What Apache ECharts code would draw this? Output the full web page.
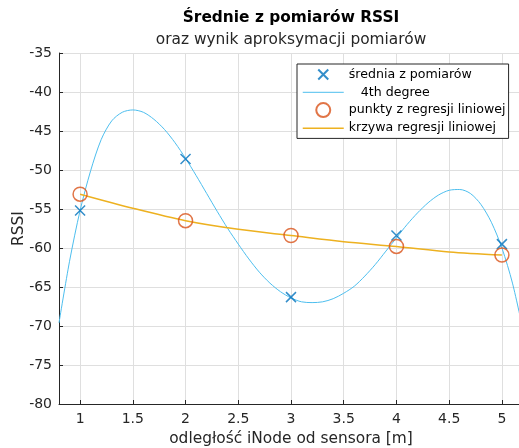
<!DOCTYPE html>
<html>
<head>
<meta charset="utf-8">
<script src="https://cdn.jsdelivr.net/npm/echarts@6/dist/echarts.min.js"></script>
<style>
  html, body { margin: 0; padding: 0; background: #fff; }
  #chart { width: 519px; height: 448px; }
</style>
</head>
<body>
<div id="chart"></div>
<script>
const FONT = 'DejaVu Sans'
const INK = '#262626'

// średnie z pomiarów
const distances = [1, 2, 3, 4, 5]
const meanRssi = [-55.2, -48.6, -66.3, -58.4, -59.5]
// punkty z regresji
const regPoints = [-53.1, -56.5, -58.4, -59.8, -60.9]
// krzywa 4 stopnia
const polyX = [0.8, 0.9, 1.0, 1.1, 1.2, 1.3, 1.4, 1.5, 1.6, 1.7, 1.8, 1.9, 2.0, 2.1, 2.2, 2.3,
  2.4, 2.5, 2.6, 2.7, 2.8, 2.9, 3.0, 3.1, 3.2, 3.3, 3.4, 3.5, 3.6, 3.7, 3.8, 3.9, 4.0, 4.1,
  4.2, 4.3, 4.4, 4.5, 4.6, 4.7, 4.8, 4.9, 5.0, 5.1, 5.2]
const polyY = [-69.6, -61.7, -55.2, -50.1, -46.1, -43.7, -42.6, -42.3, -42.6, -43.5, -44.8,
  -46.5, -48.5, -50.7, -53.0, -55.3, -57.5, -59.5, -61.4, -63.1, -64.5, -65.6, -66.4, -66.9,
  -67.0, -66.9, -66.5, -65.8, -64.9, -63.6, -62.1, -60.4, -58.7, -57.0, -55.5, -54.2, -53.2,
  -52.6, -52.5, -53.0, -54.4, -56.7, -60.0, -64.5, -70.5]
// krzywa regresji
const regCurveX = [1, 1.5, 2, 2.5, 3, 3.5, 4, 4.5, 5]
const regCurveY = [-53.1, -54.9, -56.5, -57.6, -58.4, -59.2, -59.8, -60.5, -60.9]

const xTicks = [1, 1.5, 2, 2.5, 3, 3.5, 4, 4.5, 5]

const zip = (xs, ys) => xs.map((x, i) => [x, ys[i]])

const lineIcon = 'path://M0,0M41,14M0,7L41,7'

const chart = echarts.init(document.getElementById('chart'))

chart.setOption({
  animation: false,
  backgroundColor: '#fff',
  textStyle: { fontFamily: FONT },
  graphic: [
    {
      type: 'text', x: 291, y: 18,
      style: { text: 'Średnie z pomiarów RSSI', align: 'center', verticalAlign: 'middle',
        fontFamily: FONT, fontSize: 15.4, fontWeight: 'bold', fill: '#000' },
    },
    {
      type: 'text', x: 291, y: 40,
      style: { text: 'oraz wynik aproksymacji pomiarów', align: 'center', verticalAlign: 'middle',
        fontFamily: FONT, fontSize: 15.4, fill: INK },
    },
  ],
  grid: { left: 59, top: 53, width: 464, height: 351, outerBoundsMode: 'none' },
  legend: {
    orient: 'vertical',
    left: 297,
    top: 64,
    padding: [2.5, 3, 2.5, 5],
    itemWidth: 41,
    itemHeight: 14,
    itemGap: 2.3,
    backgroundColor: '#fff',
    borderColor: INK,
    borderWidth: 1,
    borderRadius: 0,
    textStyle: { fontFamily: FONT, fontSize: 12.6, color: '#000' },
    data: [
      { name: 'średnia z pomiarów', icon: 'path://M0,0M14,14M2,2L12,12M12,2L2,12' },
      {
        name: '4th degree', icon: lineIcon,
        itemStyle: { color: 'transparent', borderColor: '#4DBEEE', borderWidth: 1 },
      },
      { name: 'punkty z regresji liniowej', icon: 'circle' },
      {
        name: 'krzywa regresji liniowej', icon: lineIcon,
        itemStyle: { color: 'transparent', borderColor: '#EDB120', borderWidth: 1.5 },
      },
    ],
    formatter: (name) => (name === '4th degree' ? '   ' + name : name),
  },
  xAxis: {
    type: 'value',
    min: 0.8,
    max: 5.2,
    name: 'odległość iNode od sensora [m]',
    nameLocation: 'middle',
    nameGap: 27,
    nameMoveOverlap: false,
    nameTextStyle: { fontFamily: FONT, fontSize: 15.4, color: INK },
    axisLine: { onZero: false, lineStyle: { color: INK, width: 1 } },
    axisTick: { inside: true, length: 4, customValues: xTicks, lineStyle: { color: INK } },
    axisLabel: { customValues: xTicks, color: INK, fontSize: 14, fontFamily: FONT, margin: 8 },
    splitLine: { show: true, lineStyle: { color: '#dfdfdf', width: 1 } },
  },
  yAxis: {
    type: 'value',
    min: -80,
    max: -35,
    interval: 5,
    name: 'RSSI',
    nameLocation: 'middle',
    nameGap: 33,
    nameMoveOverlap: false,
    nameTextStyle: { fontFamily: FONT, fontSize: 15.4, color: INK },
    axisLine: { show: true, onZero: false, lineStyle: { color: INK, width: 1 } },
    axisTick: { show: true, inside: true, length: 4, lineStyle: { color: INK } },
    axisLabel: { color: INK, fontSize: 14, fontFamily: FONT, margin: 7 },
    splitLine: { show: true, lineStyle: { color: '#dfdfdf', width: 1 } },
  },
  series: [
    {
      name: 'średnia z pomiarów',
      type: 'scatter',
      data: zip(distances, meanRssi),
      symbol: 'path://M0,0L10,10M10,0L0,10',
      symbolSize: 10,
      itemStyle: { color: 'transparent', borderColor: '#0072BD', borderWidth: 1.5 },
      z: 3,
    },
    {
      name: '4th degree',
      type: 'line',
      data: zip(polyX, polyY),
      smooth: 0.3,
      symbol: 'none',
      lineStyle: { color: '#4DBEEE', width: 1 },
      itemStyle: { color: '#4DBEEE' },
      z: 2,
    },
    {
      name: 'punkty z regresji liniowej',
      type: 'scatter',
      data: zip(distances, regPoints),
      symbol: 'circle',
      symbolSize: 14,
      itemStyle: { color: 'transparent', borderColor: '#D95319', borderWidth: 1.5 },
      z: 4,
    },
    {
      name: 'krzywa regresji liniowej',
      type: 'line',
      data: zip(regCurveX, regCurveY),
      smooth: 0.3,
      symbol: 'none',
      lineStyle: { color: '#EDB120', width: 1.5 },
      itemStyle: { color: '#EDB120' },
      z: 4,
    },
  ],
})

window.addEventListener('resize', () => chart.resize())
</script>
</body>
</html>
